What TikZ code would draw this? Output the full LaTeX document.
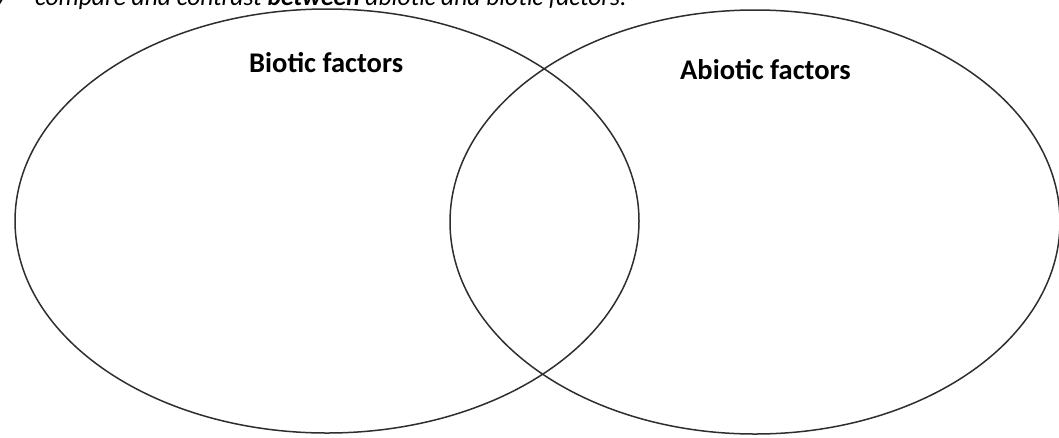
\documentclass[tikz,border=0pt]{standalone}
\usepackage{fontspec}
\setmainfont{Carlito}
\begin{document}
\begin{tikzpicture}[x=1pt,y=-1pt,
  venn/.style={draw=black!82,line width=1.5pt},
  lbl/.style={font=\bfseries\fontsize{28.5}{33}\selectfont,inner sep=0pt,anchor=base west},
  qst/.style={font=\itshape\fontsize{25.5}{30}\selectfont,inner sep=0pt,anchor=base west}]
\useasboundingbox (0,0) rectangle (1059,437);
\clip (0,0) rectangle (1059,437);
\node[qst] (n) at (-5,5) {7};
\node[qst] (q) at (35,5) {compare and contrast \textbf{between} abiotic and biotic factors.};
\draw[venn] (327,221) ellipse [x radius=312, y radius=212];
\draw[venn] (755,222) ellipse [x radius=305, y radius=212];
\node[lbl] (b) at (249,72) {Biotic factors};
\node[lbl] (a) at (680,79) {Abiotic factors};
\end{tikzpicture}
\end{document}
